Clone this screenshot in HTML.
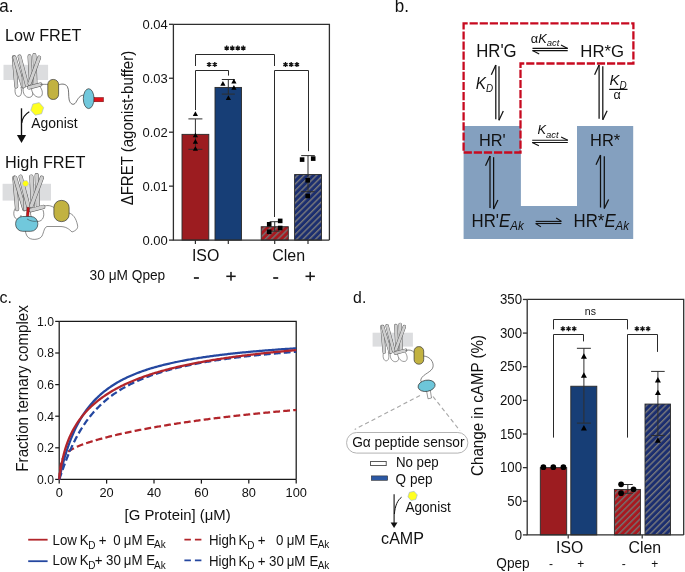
<!DOCTYPE html><html><head><meta charset="utf-8"><style>html,body{margin:0;padding:0;background:#fff;}svg{display:block;will-change:transform;}text{font-family:"Liberation Sans",sans-serif;fill:#111;}</style></head><body>
<svg width="685" height="572" viewBox="0 0 685 572">
<defs><pattern id="hr" patternUnits="userSpaceOnUse" width="4.45" height="4.45" patternTransform="rotate(45)"><rect width="4.45" height="4.45" fill="#a8191f"/><rect width="1.4" height="4.45" fill="#727272"/></pattern><pattern id="hb" patternUnits="userSpaceOnUse" width="4.45" height="4.45" patternTransform="rotate(45)"><rect width="4.45" height="4.45" fill="#1b2e6f"/><rect width="1.4" height="4.45" fill="#7a7a7c"/></pattern></defs>
<text transform="translate(-0.7,12) scale(1,1.04)" font-size="17" text-anchor="start" >a.</text>
<text transform="translate(353.1,302.8) scale(1,1.04)" font-size="15.8" text-anchor="start" >d.</text>
<text transform="translate(-0.4,303) scale(1,1.04)" font-size="16" text-anchor="start" >c.</text>
<text transform="translate(394.8,11.8) scale(1,1.04)" font-size="17" text-anchor="start" >b.</text>
<rect x="182" y="134.36" width="26.80" height="105.74" fill="#9c1c20" stroke="#2a2a2a" stroke-width="0.9"/>
<rect x="215" y="87.42" width="26.50" height="152.68" fill="#173e76" stroke="#2a2a2a" stroke-width="0.9"/>
<rect x="261.2" y="226.72" width="27.10" height="13.38" fill="url(#hr)" stroke="#2a2a2a" stroke-width="0.9"/>
<rect x="294.6" y="174.55" width="26.90" height="65.55" fill="url(#hb)" stroke="#2a2a2a" stroke-width="0.9"/>
<path d="M173.4,24.3 H329.4 V240.1 M173.4,24.3 V240.1 H329.4" fill="none" stroke="#2e2e2e" stroke-width="1.3"/>
<line x1="169" y1="240.1" x2="173.4" y2="240.1" stroke="#2e2e2e" stroke-width="1.3" />
<text transform="translate(167.8,244.5) scale(1,1.04)" font-size="13" text-anchor="end" >0.00</text>
<line x1="169" y1="186.14999999999998" x2="173.4" y2="186.14999999999998" stroke="#2e2e2e" stroke-width="1.3" />
<text transform="translate(167.8,190.54999999999998) scale(1,1.04)" font-size="13" text-anchor="end" >0.01</text>
<line x1="169" y1="132.2" x2="173.4" y2="132.2" stroke="#2e2e2e" stroke-width="1.3" />
<text transform="translate(167.8,136.6) scale(1,1.04)" font-size="13" text-anchor="end" >0.02</text>
<line x1="169" y1="78.25" x2="173.4" y2="78.25" stroke="#2e2e2e" stroke-width="1.3" />
<text transform="translate(167.8,82.65) scale(1,1.04)" font-size="13" text-anchor="end" >0.03</text>
<line x1="169" y1="24.299999999999983" x2="173.4" y2="24.299999999999983" stroke="#2e2e2e" stroke-width="1.3" />
<text transform="translate(167.8,28.69999999999998) scale(1,1.04)" font-size="13" text-anchor="end" >0.04</text>
<line x1="195.4" y1="240.1" x2="195.4" y2="244" stroke="#2e2e2e" stroke-width="1.2" />
<line x1="228.3" y1="240.1" x2="228.3" y2="244" stroke="#2e2e2e" stroke-width="1.2" />
<line x1="274.7" y1="240.1" x2="274.7" y2="244" stroke="#2e2e2e" stroke-width="1.2" />
<line x1="308" y1="240.1" x2="308" y2="244" stroke="#2e2e2e" stroke-width="1.2" />
<line x1="195.4" y1="118.9" x2="195.4" y2="149.3" stroke="#2e2e2e" stroke-width="1.0" />
<line x1="188.4" y1="118.9" x2="202.4" y2="118.9" stroke="#2e2e2e" stroke-width="1.0" />
<line x1="188.4" y1="149.3" x2="202.4" y2="149.3" stroke="#2e2e2e" stroke-width="1.0" />
<path d="M192.80,115.94 L198.00,115.94 L195.40,111.26 Z" fill="#000"/>
<path d="M192.80,137.34 L198.00,137.34 L195.40,132.66 Z" fill="#000"/>
<path d="M192.80,143.74 L198.00,143.74 L195.40,139.06 Z" fill="#000"/>
<path d="M192.80,150.84 L198.00,150.84 L195.40,146.16 Z" fill="#000"/>
<line x1="228.3" y1="79.5" x2="228.3" y2="94.1" stroke="#2e2e2e" stroke-width="1.0" />
<line x1="221.8" y1="79.5" x2="234.8" y2="79.5" stroke="#2e2e2e" stroke-width="1.0" />
<line x1="221.8" y1="94.1" x2="234.8" y2="94.1" stroke="#2e2e2e" stroke-width="1.0" />
<path d="M220.30,85.74 L225.50,85.74 L222.90,81.06 Z" fill="#000"/>
<path d="M231.30,83.44 L236.50,83.44 L233.90,78.76 Z" fill="#000"/>
<path d="M231.30,89.74 L236.50,89.74 L233.90,85.06 Z" fill="#000"/>
<path d="M225.80,99.94 L231.00,99.94 L228.40,95.26 Z" fill="#000"/>
<line x1="274.7" y1="221.7" x2="274.7" y2="231.2" stroke="#2e2e2e" stroke-width="1.0" />
<line x1="269.7" y1="221.7" x2="279.7" y2="221.7" stroke="#2e2e2e" stroke-width="1.0" />
<line x1="269.7" y1="231.2" x2="279.7" y2="231.2" stroke="#2e2e2e" stroke-width="1.0" />
<rect x="266.90" y="222.00" width="4.6" height="4.6" fill="#000"/>
<rect x="277.90" y="218.60" width="4.6" height="4.6" fill="#000"/>
<rect x="266.90" y="229.50" width="4.6" height="4.6" fill="#000"/>
<rect x="277.90" y="225.70" width="4.6" height="4.6" fill="#000"/>
<line x1="308" y1="155.6" x2="308" y2="191.7" stroke="#2e2e2e" stroke-width="1.0" />
<line x1="301.2" y1="155.6" x2="314.8" y2="155.6" stroke="#2e2e2e" stroke-width="1.0" />
<line x1="301.2" y1="191.7" x2="314.8" y2="191.7" stroke="#2e2e2e" stroke-width="1.0" />
<rect x="299.80" y="157.30" width="4.6" height="4.6" fill="#000"/>
<rect x="310.90" y="156.30" width="4.6" height="4.6" fill="#000"/>
<rect x="305.40" y="178.00" width="4.6" height="4.6" fill="#000"/>
<rect x="305.40" y="193.70" width="4.6" height="4.6" fill="#000"/>
<path d="M195.5,110 V70.5 H228.5 V75.6" fill="none" stroke="#2a2a2a" stroke-width="1.0"/>
<path d="M195.5,66 V54.5 H274.5 V66" fill="none" stroke="#2a2a2a" stroke-width="1.0"/>
<path d="M274.5,217 V70.5 H308.5 V151.2" fill="none" stroke="#2a2a2a" stroke-width="1.0"/>
<path d="M209.10,62.00 L209.10,67.00 M206.93,63.25 L211.27,65.75 M206.93,65.75 L211.27,63.25 " stroke="#111" stroke-width="1.3" fill="none"/>
<path d="M214.80,62.00 L214.80,67.00 M212.63,63.25 L216.97,65.75 M212.63,65.75 L216.97,63.25 " stroke="#111" stroke-width="1.3" fill="none"/>
<path d="M226.70,45.60 L226.70,50.60 M224.53,46.85 L228.87,49.35 M224.53,49.35 L228.87,46.85 " stroke="#111" stroke-width="1.3" fill="none"/>
<path d="M232.30,45.60 L232.30,50.60 M230.13,46.85 L234.47,49.35 M230.13,49.35 L234.47,46.85 " stroke="#111" stroke-width="1.3" fill="none"/>
<path d="M237.80,45.60 L237.80,50.60 M235.63,46.85 L239.97,49.35 M235.63,49.35 L239.97,46.85 " stroke="#111" stroke-width="1.3" fill="none"/>
<path d="M243.30,45.60 L243.30,50.60 M241.13,46.85 L245.47,49.35 M241.13,49.35 L245.47,46.85 " stroke="#111" stroke-width="1.3" fill="none"/>
<path d="M285.50,62.10 L285.50,67.10 M283.33,63.35 L287.67,65.85 M283.33,65.85 L287.67,63.35 " stroke="#111" stroke-width="1.3" fill="none"/>
<path d="M291.20,62.10 L291.20,67.10 M289.03,63.35 L293.37,65.85 M289.03,65.85 L293.37,63.35 " stroke="#111" stroke-width="1.3" fill="none"/>
<path d="M296.90,62.10 L296.90,67.10 M294.73,63.35 L299.07,65.85 M294.73,65.85 L299.07,63.35 " stroke="#111" stroke-width="1.3" fill="none"/>
<text transform="translate(191.90,261) scale(1,1.04)" font-size="15.88" >ISO</text>
<text transform="translate(272.20,261) scale(1,1.04)" font-size="16.01" >Clen</text>
<text transform="translate(89.60,280) scale(1,1.04)" font-size="13.70" >30 μM Qpep</text>
<rect x="193.90" y="277.15" width="5.0" height="1.7" fill="#1a1a1a"/>
<rect x="226.30" y="275.53" width="9.4" height="1.55" fill="#1a1a1a"/><rect x="230.22" y="271.90" width="1.55" height="8.8" fill="#1a1a1a"/>
<rect x="273.20" y="277.15" width="5.0" height="1.7" fill="#1a1a1a"/>
<rect x="305.50" y="275.53" width="9.4" height="1.55" fill="#1a1a1a"/><rect x="309.43" y="271.90" width="1.55" height="8.8" fill="#1a1a1a"/>
<text transform="translate(132.8,128.1) rotate(-90) scale(1,1.04)" font-size="15" text-anchor="middle">ΔFRET (agonist-buffer)</text>
<text transform="translate(5.00,40.5) scale(1,1.04)" font-size="16.19" >Low FRET</text>
<text transform="translate(5.00,167.7) scale(1,1.04)" font-size="16.26" >High FRET</text>
<text transform="translate(31.30,127.6) scale(1,1.04)" font-size="13.91" >Agonist</text>
<rect x="3.5" y="64.8" width="44.6" height="15.2" fill="#dcdddf"/>
<g transform="translate(12.4,53.9) scale(1.0)"><path d="M3.5,32 C1.5,37 3,43 6.5,42.5 C9.5,42 9.5,37 8.5,33" fill="#fff" stroke="#444" stroke-width="0.6"/><path d="M11,33 C9.5,39 13,44 17,43.5 C21,43 21.5,38 19,34" fill="#fff" stroke="#444" stroke-width="0.6"/><path d="M19,33.5 C19,40 24,44.5 28,43 C31,41.5 30.5,36 27,32" fill="#fff" stroke="#444" stroke-width="0.6"/><line x1="1.4" y1="3.4" x2="3.9" y2="32.6" stroke="#505050" stroke-width="3.9" stroke-linecap="round"/><line x1="1.4" y1="3.4" x2="3.9" y2="32.6" stroke="#cfcfcf" stroke-width="3.05" stroke-linecap="round"/><line x1="2.1" y1="3.6" x2="10.6" y2="32.6" stroke="#505050" stroke-width="3.9" stroke-linecap="round"/><line x1="2.1" y1="3.6" x2="10.6" y2="32.6" stroke="#cfcfcf" stroke-width="3.05" stroke-linecap="round"/><line x1="11.4" y1="19.5" x2="11.4" y2="32.4" stroke="#505050" stroke-width="3.9" stroke-linecap="round"/><line x1="11.4" y1="19.5" x2="11.4" y2="32.4" stroke="#cfcfcf" stroke-width="3.05" stroke-linecap="round"/><line x1="7.1" y1="2.6" x2="14.6" y2="31.1" stroke="#505050" stroke-width="3.9" stroke-linecap="round"/><line x1="7.1" y1="2.6" x2="14.6" y2="31.1" stroke="#cfcfcf" stroke-width="3.05" stroke-linecap="round"/><line x1="17.1" y1="2.4" x2="18.6" y2="30.6" stroke="#505050" stroke-width="3.9" stroke-linecap="round"/><line x1="17.1" y1="2.4" x2="18.6" y2="30.6" stroke="#cfcfcf" stroke-width="3.05" stroke-linecap="round"/><line x1="22.0" y1="1.1" x2="23.1" y2="29.6" stroke="#505050" stroke-width="3.9" stroke-linecap="round"/><line x1="22.0" y1="1.1" x2="23.1" y2="29.6" stroke="#cfcfcf" stroke-width="3.05" stroke-linecap="round"/><line x1="26.8" y1="3.6" x2="17.1" y2="29.6" stroke="#505050" stroke-width="3.9" stroke-linecap="round"/><line x1="26.8" y1="3.6" x2="17.1" y2="29.6" stroke="#cfcfcf" stroke-width="3.05" stroke-linecap="round"/><line x1="16.6" y1="33.6" x2="28.1" y2="30.6" stroke="#505050" stroke-width="3.9" stroke-linecap="round"/><line x1="16.6" y1="33.6" x2="28.1" y2="30.6" stroke="#cfcfcf" stroke-width="3.05" stroke-linecap="round"/></g>
<path d="M40.5,84.4 C44,84.3 46,84.3 48,84.4" stroke="#333" stroke-width="0.6" fill="none"/>
<rect x="47.80" y="79.45" width="10.80" height="20.00" rx="5.13" fill="#c2b241" stroke="#333" stroke-width="0.7"/>
<path d="M58.7,84.8 C61,84 65,83.2 67.3,86.5 C69.3,89.5 68.2,96 69.2,100 C70.2,104 73.5,106 75.8,102.5 C78,98.5 80,95.3 83.4,95.2" stroke="#444" stroke-width="0.75" fill="none"/>
<ellipse cx="88.65" cy="98.65" rx="5.35" ry="9.95" fill="#71c8dc" stroke="#333" stroke-width="0.7"/>
<rect x="94.1" y="97.5" width="9.4" height="4.3" fill="#e0121a" stroke="#5a0a0a" stroke-width="0.45"/>
<polygon points="43.66,107.53 41.62,113.80 35.16,115.18 30.74,110.27 32.78,104.00 39.24,102.62" fill="#ffff20" stroke="#9aaee0" stroke-width="0.6"/>
<path d="M21.5,108.3 V136" stroke="#111" stroke-width="1.35" fill="none"/>
<path d="M16.9,135 L26.1,135 L21.5,142.9 Z" fill="#111"/>
<path d="M29.3,111.8 C25.5,114 22.5,117.5 21.7,123" stroke="#111" stroke-width="1.25" fill="none"/>
<rect x="2.6" y="183.8" width="48.4" height="16.8" fill="#dcdddf"/>
<path d="M42,207 C46,205 50,205 54,207.5 L68.8,213 C73,214 76,218 77.5,225 C78.5,229 75,231 72,232 C69,229 66,226.5 60,226.5 L47,226.5 C44,227.5 44,232 42,236 C40,240 30,241 27,236 C25.5,233 25,231 26,229 Z" fill="#fff" stroke="#444" stroke-width="0.6"/>
<path d="M15.5,208 C12.5,212 13.5,219 18,219.5 C20,219.5 21,217 21,215 M31,209 C29,216 33,222 38,221.5 C43,221 45,216 43,210" fill="#fff" stroke="#444" stroke-width="0.6"/>
<g transform="translate(12.9,173.9) scale(1.08)"><line x1="1.4" y1="3.4" x2="3.9" y2="32.6" stroke="#505050" stroke-width="3.9" stroke-linecap="round"/><line x1="1.4" y1="3.4" x2="3.9" y2="32.6" stroke="#cfcfcf" stroke-width="3.05" stroke-linecap="round"/><line x1="2.1" y1="3.6" x2="10.6" y2="32.6" stroke="#505050" stroke-width="3.9" stroke-linecap="round"/><line x1="2.1" y1="3.6" x2="10.6" y2="32.6" stroke="#cfcfcf" stroke-width="3.05" stroke-linecap="round"/><line x1="11.4" y1="19.5" x2="11.4" y2="32.4" stroke="#505050" stroke-width="3.9" stroke-linecap="round"/><line x1="11.4" y1="19.5" x2="11.4" y2="32.4" stroke="#cfcfcf" stroke-width="3.05" stroke-linecap="round"/><line x1="7.1" y1="2.6" x2="14.6" y2="31.1" stroke="#505050" stroke-width="3.9" stroke-linecap="round"/><line x1="7.1" y1="2.6" x2="14.6" y2="31.1" stroke="#cfcfcf" stroke-width="3.05" stroke-linecap="round"/><line x1="17.1" y1="2.4" x2="18.6" y2="30.6" stroke="#505050" stroke-width="3.9" stroke-linecap="round"/><line x1="17.1" y1="2.4" x2="18.6" y2="30.6" stroke="#cfcfcf" stroke-width="3.05" stroke-linecap="round"/><line x1="22.0" y1="1.1" x2="23.1" y2="29.6" stroke="#505050" stroke-width="3.9" stroke-linecap="round"/><line x1="22.0" y1="1.1" x2="23.1" y2="29.6" stroke="#cfcfcf" stroke-width="3.05" stroke-linecap="round"/><line x1="26.8" y1="3.6" x2="17.1" y2="29.6" stroke="#505050" stroke-width="3.9" stroke-linecap="round"/><line x1="26.8" y1="3.6" x2="17.1" y2="29.6" stroke="#cfcfcf" stroke-width="3.05" stroke-linecap="round"/><line x1="16.6" y1="33.6" x2="28.1" y2="30.6" stroke="#505050" stroke-width="3.9" stroke-linecap="round"/><line x1="16.6" y1="33.6" x2="28.1" y2="30.6" stroke="#cfcfcf" stroke-width="3.05" stroke-linecap="round"/></g>
<polygon points="28.80,183.50 27.15,186.36 23.85,186.36 22.20,183.50 23.85,180.64 27.15,180.64" fill="#ffff10" stroke="#b8c0e0" stroke-width="0.6"/>
<path d="M27.1,207.3 L29.5,207.5 L28.7,216.7 L26.3,216.5 Z" fill="#d0121a" stroke="#4a0808" stroke-width="0.45"/>
<rect x="15.60" y="216.50" width="22.20" height="14.80" rx="7.03" fill="#71c8dc" stroke="#333" stroke-width="0.7"/>
<path d="M27,219 C30,221 35,222 37,221" stroke="#333" stroke-width="0.5" fill="none"/>
<rect x="53.90" y="200.40" width="15.20" height="21.20" rx="7.22" fill="#c2b241" stroke="#333" stroke-width="0.7"/>
<path d="M463.6,125.9 H520.9 V205.9 H577 V125.9 H633.2 V238.9 H463.6 Z" fill="#84a0bf"/>
<path d="M463.6,23.3 H633.4 V63.5 H520.5 V152.5 H463.6 Z" fill="none" stroke="#c70a20" stroke-width="2.3" stroke-dasharray="8.2 1.9" stroke-dashoffset="4.1"/>
<text transform="translate(476.20,56.6) scale(1,1.04)" font-size="16.77" >HR'G</text>
<text transform="translate(580.30,56.6) scale(1,1.04)" font-size="16.74" >HR*G</text>
<text transform="translate(479.00,145.7) scale(1,1.04)" font-size="16.33" >HR'</text>
<text transform="translate(590.00,146.1) scale(1,1.04)" font-size="16.46" >HR*</text>
<text transform="translate(471.6,226.8) scale(1,1.04)" font-size="16.8">HR'<tspan font-style="italic">E</tspan><tspan font-style="italic" font-size="11.5" dy="3">Ak</tspan></text>
<text transform="translate(573.6,226.8) scale(1,1.04)" font-size="16.8">HR*<tspan font-style="italic">E</tspan><tspan font-style="italic" font-size="11.5" dy="3">Ak</tspan></text>
<text transform="translate(530.8,42.8) scale(1,1.04)" font-size="12.8">α<tspan font-style="italic">K</tspan><tspan font-style="italic" font-size="9.5" dy="3.1">act</tspan></text>
<text transform="translate(537.5,134.3) scale(1,1.04)" font-size="12.8"><tspan font-style="italic">K</tspan><tspan font-style="italic" font-size="9.5" dy="3.1">act</tspan></text>
<text transform="translate(475.8,88.9) scale(1,1.04)" font-size="15.3"><tspan font-style="italic">K</tspan><tspan font-style="italic" font-size="9.9" dy="3.1">D</tspan></text>
<text transform="translate(609.6,85.4) scale(1,1.04)" font-size="14.9"><tspan font-style="italic">K</tspan><tspan font-style="italic" font-size="9.9" dy="3">D</tspan></text>
<line x1="609.2" y1="89.4" x2="627.5" y2="89.4" stroke="#111" stroke-width="1.2" />
<text transform="translate(617.2,99.2) scale(1,1.04)" font-size="12.5" text-anchor="middle" >α</text>
<line x1="532.5" y1="48.4" x2="567.7" y2="48.4" stroke="#111" stroke-width="1.1" />
<line x1="532.5" y1="50.6" x2="567.7" y2="50.6" stroke="#111" stroke-width="1.1" />
<line x1="567.7" y1="48.4" x2="561.0" y2="45.1" stroke="#111" stroke-width="1.1" />
<line x1="532.5" y1="50.6" x2="539.2" y2="53.9" stroke="#111" stroke-width="1.1" />
<line x1="532.2" y1="140.3" x2="567.8" y2="140.3" stroke="#111" stroke-width="1.1" />
<line x1="532.2" y1="142.5" x2="567.8" y2="142.5" stroke="#111" stroke-width="1.1" />
<line x1="567.8" y1="140.3" x2="561.0999999999999" y2="137.0" stroke="#111" stroke-width="1.1" />
<line x1="532.2" y1="142.5" x2="538.9000000000001" y2="145.8" stroke="#111" stroke-width="1.1" />
<line x1="535.7" y1="221.4" x2="561.4" y2="221.4" stroke="#111" stroke-width="1.1" />
<line x1="535.7" y1="223.5" x2="561.4" y2="223.5" stroke="#111" stroke-width="1.1" />
<line x1="561.4" y1="221.4" x2="556.1999999999999" y2="218.0" stroke="#111" stroke-width="1.1" />
<line x1="535.7" y1="223.5" x2="540.9000000000001" y2="226.9" stroke="#111" stroke-width="1.1" />
<line x1="495.8" y1="65.1" x2="495.8" y2="119.2" stroke="#111" stroke-width="1.25" />
<line x1="499.0" y1="66.3" x2="499.0" y2="120.2" stroke="#111" stroke-width="1.25" />
<line x1="495.8" y1="65.1" x2="491.3" y2="74.8" stroke="#111" stroke-width="1.25" />
<line x1="499.0" y1="120.2" x2="503.3" y2="111.10000000000001" stroke="#111" stroke-width="1.25" />
<line x1="599.1" y1="65.1" x2="599.1" y2="118.8" stroke="#111" stroke-width="1.25" />
<line x1="602.8" y1="66.3" x2="602.8" y2="119.8" stroke="#111" stroke-width="1.25" />
<line x1="599.1" y1="65.1" x2="594.6" y2="74.8" stroke="#111" stroke-width="1.25" />
<line x1="602.8" y1="119.8" x2="607.0999999999999" y2="110.7" stroke="#111" stroke-width="1.25" />
<line x1="490.0" y1="156.0" x2="490.0" y2="208.1" stroke="#111" stroke-width="1.25" />
<line x1="493.6" y1="157.2" x2="493.6" y2="209.1" stroke="#111" stroke-width="1.25" />
<line x1="490.0" y1="156.0" x2="485.5" y2="165.7" stroke="#111" stroke-width="1.25" />
<line x1="493.6" y1="209.1" x2="497.90000000000003" y2="200.0" stroke="#111" stroke-width="1.25" />
<line x1="600.5" y1="155.0" x2="600.5" y2="207.5" stroke="#111" stroke-width="1.25" />
<line x1="604.3" y1="156.2" x2="604.3" y2="208.5" stroke="#111" stroke-width="1.25" />
<line x1="600.5" y1="155.0" x2="596.0" y2="164.7" stroke="#111" stroke-width="1.25" />
<line x1="604.3" y1="208.5" x2="608.5999999999999" y2="199.4" stroke="#111" stroke-width="1.25" />
<path d="M59.2,321.4 H296.2 V479.4 M59.2,321.4 V479.4 H296.2" fill="none" stroke="#1a1a1a" stroke-width="1.25"/>
<line x1="55.2" y1="479.4" x2="59.2" y2="479.4" stroke="#1a1a1a" stroke-width="1.25" />
<text transform="translate(54.0,483.7) scale(1,1.04)" font-size="12.2" text-anchor="end" >0.0</text>
<line x1="55.2" y1="447.79999999999995" x2="59.2" y2="447.79999999999995" stroke="#1a1a1a" stroke-width="1.25" />
<text transform="translate(54.0,452.09999999999997) scale(1,1.04)" font-size="12.2" text-anchor="end" >0.2</text>
<line x1="55.2" y1="416.2" x2="59.2" y2="416.2" stroke="#1a1a1a" stroke-width="1.25" />
<text transform="translate(54.0,420.5) scale(1,1.04)" font-size="12.2" text-anchor="end" >0.4</text>
<line x1="55.2" y1="384.59999999999997" x2="59.2" y2="384.59999999999997" stroke="#1a1a1a" stroke-width="1.25" />
<text transform="translate(54.0,388.9) scale(1,1.04)" font-size="12.2" text-anchor="end" >0.6</text>
<line x1="55.2" y1="353.0" x2="59.2" y2="353.0" stroke="#1a1a1a" stroke-width="1.25" />
<text transform="translate(54.0,357.3) scale(1,1.04)" font-size="12.2" text-anchor="end" >0.8</text>
<line x1="55.2" y1="321.4" x2="59.2" y2="321.4" stroke="#1a1a1a" stroke-width="1.25" />
<text transform="translate(54.0,325.7) scale(1,1.04)" font-size="12.2" text-anchor="end" >1.0</text>
<line x1="59.2" y1="479.4" x2="59.2" y2="483.6" stroke="#1a1a1a" stroke-width="1.25" />
<text transform="translate(59.2,497) scale(1,1.04)" font-size="12.8" text-anchor="middle" >0</text>
<line x1="106.60000000000001" y1="479.4" x2="106.60000000000001" y2="483.6" stroke="#1a1a1a" stroke-width="1.25" />
<text transform="translate(106.60000000000001,497) scale(1,1.04)" font-size="12.8" text-anchor="middle" >20</text>
<line x1="154.0" y1="479.4" x2="154.0" y2="483.6" stroke="#1a1a1a" stroke-width="1.25" />
<text transform="translate(154.0,497) scale(1,1.04)" font-size="12.8" text-anchor="middle" >40</text>
<line x1="201.40000000000003" y1="479.4" x2="201.40000000000003" y2="483.6" stroke="#1a1a1a" stroke-width="1.25" />
<text transform="translate(201.40000000000003,497) scale(1,1.04)" font-size="12.8" text-anchor="middle" >60</text>
<line x1="248.8" y1="479.4" x2="248.8" y2="483.6" stroke="#1a1a1a" stroke-width="1.25" />
<text transform="translate(248.8,497) scale(1,1.04)" font-size="12.8" text-anchor="middle" >80</text>
<line x1="296.2" y1="479.4" x2="296.2" y2="483.6" stroke="#1a1a1a" stroke-width="1.25" />
<text transform="translate(296.2,497) scale(1,1.04)" font-size="12.8" text-anchor="middle" >100</text>
<text transform="translate(124.60,519.9) scale(1,1.04)" font-size="14.88" >[G Protein] (μM)</text>
<text transform="translate(27.6,388.4) rotate(-90) scale(1,1.04)" font-size="15.15" text-anchor="middle">Fraction ternary complex</text>
<path d="M59.20,479.40 L59.44,476.08 L59.67,473.39 L59.91,471.15 L60.15,469.27 L60.39,467.66 L60.62,466.27 L60.86,465.04 L61.10,463.96 L61.33,462.99 L61.57,462.12 L61.81,461.33 L62.04,460.61 L62.28,459.96 L62.52,459.35 L62.76,458.79 L62.99,458.27 L63.23,457.79 L63.47,457.33 L63.70,456.91 L63.94,456.51 L64.18,456.13 L64.41,455.77 L64.65,455.43 L64.89,455.11 L65.12,454.80 L65.36,454.51 L65.60,454.22 L65.84,453.95 L66.07,453.69 L66.31,453.44 L66.55,453.20 L66.78,452.97 L67.02,452.75 L67.26,452.53 L67.50,452.32 L67.73,452.11 L67.97,451.92 L68.21,451.72 L68.44,451.54 L68.68,451.35 L68.92,451.18 L69.15,451.00 L69.39,450.83 L69.63,450.67 L69.87,450.51 L70.10,450.35 L70.34,450.19 L70.58,450.04 L70.81,449.89 L71.05,449.74 L72.23,449.05 L73.42,448.41 L74.61,447.81 L75.79,447.25 L76.98,446.72 L78.16,446.21 L79.34,445.72 L80.53,445.25 L81.72,444.80 L82.90,444.36 L84.09,443.94 L85.27,443.52 L86.46,443.12 L87.64,442.73 L88.83,442.34 L90.01,441.97 L91.20,441.60 L92.38,441.23 L93.56,440.88 L94.75,440.53 L95.94,440.18 L97.12,439.85 L98.31,439.51 L99.49,439.18 L100.68,438.86 L101.86,438.54 L103.05,438.22 L104.23,437.91 L105.42,437.60 L106.60,437.30 L107.78,437.00 L108.97,436.70 L110.16,436.41 L111.34,436.12 L112.53,435.83 L113.71,435.55 L114.90,435.27 L116.08,434.99 L117.27,434.72 L118.45,434.44 L119.64,434.17 L120.82,433.91 L122.00,433.64 L123.19,433.38 L124.38,433.12 L125.56,432.87 L126.75,432.61 L127.93,432.36 L129.12,432.11 L130.30,431.86 L131.49,431.62 L132.67,431.37 L133.86,431.13 L135.04,430.89 L136.23,430.66 L137.41,430.42 L138.60,430.19 L139.78,429.96 L140.97,429.73 L142.15,429.50 L143.34,429.27 L144.52,429.05 L145.71,428.83 L146.89,428.61 L148.07,428.39 L149.26,428.17 L150.44,427.96 L151.63,427.74 L152.81,427.53 L154.00,427.32 L155.19,427.11 L156.37,426.91 L157.56,426.70 L158.74,426.50 L159.93,426.30 L161.11,426.10 L162.30,425.90 L163.48,425.70 L164.67,425.50 L165.85,425.31 L167.04,425.11 L168.22,424.92 L169.41,424.73 L170.59,424.54 L171.78,424.35 L172.96,424.17 L174.15,423.98 L175.33,423.80 L176.52,423.61 L177.70,423.43 L178.88,423.25 L180.07,423.07 L181.25,422.90 L182.44,422.72 L183.62,422.54 L184.81,422.37 L186.00,422.20 L187.18,422.02 L188.37,421.85 L189.55,421.68 L190.74,421.52 L191.92,421.35 L193.11,421.18 L194.29,421.02 L195.48,420.85 L196.66,420.69 L197.85,420.53 L199.03,420.37 L200.22,420.21 L201.40,420.05 L202.59,419.89 L203.77,419.73 L204.95,419.58 L206.14,419.42 L207.32,419.27 L208.51,419.11 L209.69,418.96 L210.88,418.81 L212.06,418.66 L213.25,418.51 L214.44,418.36 L215.62,418.22 L216.81,418.07 L217.99,417.92 L219.18,417.78 L220.36,417.64 L221.55,417.49 L222.73,417.35 L223.92,417.21 L225.10,417.07 L226.29,416.93 L227.47,416.79 L228.66,416.65 L229.84,416.51 L231.03,416.38 L232.21,416.24 L233.40,416.11 L234.58,415.97 L235.76,415.84 L236.95,415.71 L238.13,415.58 L239.32,415.45 L240.50,415.31 L241.69,415.19 L242.88,415.06 L244.06,414.93 L245.25,414.80 L246.43,414.67 L247.62,414.55 L248.80,414.42 L249.99,414.30 L251.17,414.18 L252.36,414.05 L253.54,413.93 L254.73,413.81 L255.91,413.69 L257.10,413.57 L258.28,413.45 L259.47,413.33 L260.65,413.21 L261.84,413.09 L263.02,412.97 L264.20,412.86 L265.39,412.74 L266.57,412.63 L267.76,412.51 L268.94,412.40 L270.13,412.28 L271.31,412.17 L272.50,412.06 L273.69,411.95 L274.87,411.84 L276.06,411.73 L277.24,411.62 L278.43,411.51 L279.61,411.40 L280.80,411.29 L281.98,411.18 L283.17,411.07 L284.35,410.97 L285.54,410.86 L286.72,410.76 L287.91,410.65 L289.09,410.55 L290.28,410.44 L291.46,410.34 L292.65,410.24 L293.83,410.14 L295.01,410.03 L296.20,409.93" fill="none" stroke="#b2252b" stroke-width="2.25" stroke-dasharray="6.8 3.2"/>
<path d="M59.20,479.40 L59.44,478.82 L59.67,478.18 L59.91,477.52 L60.15,476.85 L60.39,476.18 L60.62,475.49 L60.86,474.81 L61.10,474.13 L61.33,473.44 L61.57,472.76 L61.81,472.08 L62.04,471.40 L62.28,470.72 L62.52,470.04 L62.76,469.37 L62.99,468.70 L63.23,468.04 L63.47,467.37 L63.70,466.71 L63.94,466.06 L64.18,465.41 L64.41,464.76 L64.65,464.12 L64.89,463.48 L65.12,462.84 L65.36,462.21 L65.60,461.59 L65.84,460.96 L66.07,460.35 L66.31,459.73 L66.55,459.12 L66.78,458.52 L67.02,457.92 L67.26,457.32 L67.50,456.73 L67.73,456.14 L67.97,455.56 L68.21,454.98 L68.44,454.41 L68.68,453.84 L68.92,453.27 L69.15,452.71 L69.39,452.15 L69.63,451.60 L69.87,451.05 L70.10,450.50 L70.34,449.96 L70.58,449.42 L70.81,448.89 L71.05,448.36 L72.23,445.78 L73.42,443.29 L74.61,440.89 L75.79,438.58 L76.98,436.36 L78.16,434.22 L79.34,432.15 L80.53,430.16 L81.72,428.24 L82.90,426.38 L84.09,424.59 L85.27,422.86 L86.46,421.19 L87.64,419.58 L88.83,418.02 L90.01,416.50 L91.20,415.04 L92.38,413.62 L93.56,412.25 L94.75,410.92 L95.94,409.63 L97.12,408.38 L98.31,407.17 L99.49,405.99 L100.68,404.85 L101.86,403.74 L103.05,402.66 L104.23,401.61 L105.42,400.59 L106.60,399.60 L107.78,398.64 L108.97,397.70 L110.16,396.79 L111.34,395.90 L112.53,395.03 L113.71,394.18 L114.90,393.36 L116.08,392.56 L117.27,391.77 L118.45,391.01 L119.64,390.26 L120.82,389.54 L122.00,388.83 L123.19,388.13 L124.38,387.45 L125.56,386.79 L126.75,386.14 L127.93,385.51 L129.12,384.89 L130.30,384.29 L131.49,383.70 L132.67,383.12 L133.86,382.55 L135.04,381.99 L136.23,381.45 L137.41,380.92 L138.60,380.40 L139.78,379.89 L140.97,379.39 L142.15,378.90 L143.34,378.42 L144.52,377.95 L145.71,377.49 L146.89,377.03 L148.07,376.59 L149.26,376.15 L150.44,375.73 L151.63,375.31 L152.81,374.89 L154.00,374.49 L155.19,374.09 L156.37,373.70 L157.56,373.32 L158.74,372.95 L159.93,372.58 L161.11,372.21 L162.30,371.86 L163.48,371.51 L164.67,371.16 L165.85,370.82 L167.04,370.49 L168.22,370.16 L169.41,369.84 L170.59,369.52 L171.78,369.21 L172.96,368.90 L174.15,368.60 L175.33,368.31 L176.52,368.01 L177.70,367.73 L178.88,367.44 L180.07,367.16 L181.25,366.89 L182.44,366.62 L183.62,366.35 L184.81,366.09 L186.00,365.83 L187.18,365.58 L188.37,365.33 L189.55,365.08 L190.74,364.83 L191.92,364.59 L193.11,364.36 L194.29,364.12 L195.48,363.89 L196.66,363.67 L197.85,363.44 L199.03,363.22 L200.22,363.01 L201.40,362.79 L202.59,362.58 L203.77,362.37 L204.95,362.16 L206.14,361.96 L207.32,361.76 L208.51,361.56 L209.69,361.37 L210.88,361.17 L212.06,360.98 L213.25,360.80 L214.44,360.61 L215.62,360.43 L216.81,360.25 L217.99,360.07 L219.18,359.89 L220.36,359.72 L221.55,359.55 L222.73,359.38 L223.92,359.21 L225.10,359.04 L226.29,358.88 L227.47,358.72 L228.66,358.56 L229.84,358.40 L231.03,358.24 L232.21,358.09 L233.40,357.93 L234.58,357.78 L235.76,357.63 L236.95,357.49 L238.13,357.34 L239.32,357.20 L240.50,357.06 L241.69,356.91 L242.88,356.78 L244.06,356.64 L245.25,356.50 L246.43,356.37 L247.62,356.23 L248.80,356.10 L249.99,355.97 L251.17,355.84 L252.36,355.71 L253.54,355.59 L254.73,355.46 L255.91,355.34 L257.10,355.22 L258.28,355.10 L259.47,354.98 L260.65,354.86 L261.84,354.74 L263.02,354.62 L264.20,354.51 L265.39,354.40 L266.57,354.28 L267.76,354.17 L268.94,354.06 L270.13,353.95 L271.31,353.84 L272.50,353.74 L273.69,353.63 L274.87,353.53 L276.06,353.42 L277.24,353.32 L278.43,353.22 L279.61,353.12 L280.80,353.02 L281.98,352.92 L283.17,352.82 L284.35,352.72 L285.54,352.62 L286.72,352.53 L287.91,352.43 L289.09,352.34 L290.28,352.25 L291.46,352.16 L292.65,352.06 L293.83,351.97 L295.01,351.88 L296.20,351.80" fill="none" stroke="#2447a0" stroke-width="2.25" stroke-dasharray="6.8 3.2"/>
<path d="M59.20,479.40 L59.44,478.33 L59.67,477.26 L59.91,476.20 L60.15,475.15 L60.39,474.11 L60.62,473.09 L60.86,472.07 L61.10,471.07 L61.33,470.09 L61.57,469.11 L61.81,468.15 L62.04,467.20 L62.28,466.26 L62.52,465.34 L62.76,464.43 L62.99,463.52 L63.23,462.63 L63.47,461.76 L63.70,460.89 L63.94,460.03 L64.18,459.19 L64.41,458.35 L64.65,457.53 L64.89,456.71 L65.12,455.91 L65.36,455.11 L65.60,454.33 L65.84,453.55 L66.07,452.79 L66.31,452.03 L66.55,451.28 L66.78,450.54 L67.02,449.81 L67.26,449.09 L67.50,448.38 L67.73,447.68 L67.97,446.98 L68.21,446.29 L68.44,445.61 L68.68,444.94 L68.92,444.28 L69.15,443.62 L69.39,442.97 L69.63,442.33 L69.87,441.69 L70.10,441.07 L70.34,440.44 L70.58,439.83 L70.81,439.22 L71.05,438.62 L72.23,435.72 L73.42,432.96 L74.61,430.34 L75.79,427.86 L76.98,425.49 L78.16,423.24 L79.34,421.09 L80.53,419.04 L81.72,417.07 L82.90,415.20 L84.09,413.40 L85.27,411.68 L86.46,410.03 L87.64,408.44 L88.83,406.92 L90.01,405.45 L91.20,404.04 L92.38,402.68 L93.56,401.38 L94.75,400.12 L95.94,398.90 L97.12,397.72 L98.31,396.59 L99.49,395.49 L100.68,394.43 L101.86,393.41 L103.05,392.41 L104.23,391.45 L105.42,390.52 L106.60,389.61 L107.78,388.74 L108.97,387.89 L110.16,387.06 L111.34,386.26 L112.53,385.48 L113.71,384.72 L114.90,383.98 L116.08,383.26 L117.27,382.57 L118.45,381.89 L119.64,381.22 L120.82,380.58 L122.00,379.95 L123.19,379.34 L124.38,378.74 L125.56,378.16 L126.75,377.59 L127.93,377.04 L129.12,376.49 L130.30,375.97 L131.49,375.45 L132.67,374.94 L133.86,374.45 L135.04,373.97 L136.23,373.50 L137.41,373.03 L138.60,372.58 L139.78,372.14 L140.97,371.71 L142.15,371.29 L143.34,370.87 L144.52,370.47 L145.71,370.07 L146.89,369.68 L148.07,369.30 L149.26,368.92 L150.44,368.55 L151.63,368.19 L152.81,367.84 L154.00,367.50 L155.19,367.16 L156.37,366.82 L157.56,366.49 L158.74,366.17 L159.93,365.86 L161.11,365.55 L162.30,365.24 L163.48,364.95 L164.67,364.65 L165.85,364.36 L167.04,364.08 L168.22,363.80 L169.41,363.53 L170.59,363.26 L171.78,362.99 L172.96,362.73 L174.15,362.48 L175.33,362.22 L176.52,361.98 L177.70,361.73 L178.88,361.49 L180.07,361.25 L181.25,361.02 L182.44,360.79 L183.62,360.57 L184.81,360.35 L186.00,360.13 L187.18,359.91 L188.37,359.70 L189.55,359.49 L190.74,359.28 L191.92,359.08 L193.11,358.88 L194.29,358.68 L195.48,358.49 L196.66,358.30 L197.85,358.11 L199.03,357.92 L200.22,357.74 L201.40,357.56 L202.59,357.38 L203.77,357.20 L204.95,357.03 L206.14,356.86 L207.32,356.69 L208.51,356.52 L209.69,356.36 L210.88,356.19 L212.06,356.03 L213.25,355.87 L214.44,355.72 L215.62,355.56 L216.81,355.41 L217.99,355.26 L219.18,355.11 L220.36,354.97 L221.55,354.82 L222.73,354.68 L223.92,354.54 L225.10,354.40 L226.29,354.26 L227.47,354.12 L228.66,353.99 L229.84,353.85 L231.03,353.72 L232.21,353.59 L233.40,353.46 L234.58,353.34 L235.76,353.21 L236.95,353.09 L238.13,352.96 L239.32,352.84 L240.50,352.72 L241.69,352.60 L242.88,352.49 L244.06,352.37 L245.25,352.26 L246.43,352.14 L247.62,352.03 L248.80,351.92 L249.99,351.81 L251.17,351.70 L252.36,351.59 L253.54,351.49 L254.73,351.38 L255.91,351.28 L257.10,351.17 L258.28,351.07 L259.47,350.97 L260.65,350.87 L261.84,350.77 L263.02,350.68 L264.20,350.58 L265.39,350.48 L266.57,350.39 L267.76,350.29 L268.94,350.20 L270.13,350.11 L271.31,350.02 L272.50,349.93 L273.69,349.84 L274.87,349.75 L276.06,349.66 L277.24,349.57 L278.43,349.49 L279.61,349.40 L280.80,349.32 L281.98,349.24 L283.17,349.15 L284.35,349.07 L285.54,348.99 L286.72,348.91 L287.91,348.83 L289.09,348.75 L290.28,348.67 L291.46,348.59 L292.65,348.52 L293.83,348.44 L295.01,348.37 L296.20,348.29" fill="none" stroke="#2447a0" stroke-width="2.25" />
<path d="M59.20,479.40 L59.44,477.55 L59.67,475.78 L59.91,474.10 L60.15,472.49 L60.39,470.96 L60.62,469.48 L60.86,468.07 L61.10,466.71 L61.33,465.40 L61.57,464.15 L61.81,462.93 L62.04,461.76 L62.28,460.63 L62.52,459.53 L62.76,458.47 L62.99,457.45 L63.23,456.45 L63.47,455.48 L63.70,454.54 L63.94,453.63 L64.18,452.74 L64.41,451.87 L64.65,451.03 L64.89,450.21 L65.12,449.40 L65.36,448.62 L65.60,447.86 L65.84,447.11 L66.07,446.38 L66.31,445.66 L66.55,444.96 L66.78,444.28 L67.02,443.61 L67.26,442.95 L67.50,442.31 L67.73,441.68 L67.97,441.06 L68.21,440.45 L68.44,439.85 L68.68,439.26 L68.92,438.69 L69.15,438.12 L69.39,437.56 L69.63,437.02 L69.87,436.48 L70.10,435.95 L70.34,435.43 L70.58,434.91 L70.81,434.41 L71.05,433.91 L72.23,431.52 L73.42,429.29 L74.61,427.21 L75.79,425.24 L76.98,423.38 L78.16,421.61 L79.34,419.93 L80.53,418.33 L81.72,416.80 L82.90,415.33 L84.09,413.93 L85.27,412.58 L86.46,411.28 L87.64,410.02 L88.83,408.81 L90.01,407.64 L91.20,406.51 L92.38,405.42 L93.56,404.36 L94.75,403.33 L95.94,402.33 L97.12,401.36 L98.31,400.42 L99.49,399.50 L100.68,398.61 L101.86,397.74 L103.05,396.89 L104.23,396.07 L105.42,395.27 L106.60,394.48 L107.78,393.71 L108.97,392.97 L110.16,392.24 L111.34,391.52 L112.53,390.82 L113.71,390.14 L114.90,389.47 L116.08,388.82 L117.27,388.18 L118.45,387.55 L119.64,386.94 L120.82,386.34 L122.00,385.75 L123.19,385.17 L124.38,384.61 L125.56,384.05 L126.75,383.51 L127.93,382.97 L129.12,382.45 L130.30,381.93 L131.49,381.43 L132.67,380.93 L133.86,380.44 L135.04,379.96 L136.23,379.49 L137.41,379.03 L138.60,378.58 L139.78,378.13 L140.97,377.69 L142.15,377.26 L143.34,376.83 L144.52,376.41 L145.71,376.00 L146.89,375.60 L148.07,375.20 L149.26,374.81 L150.44,374.42 L151.63,374.04 L152.81,373.67 L154.00,373.30 L155.19,372.93 L156.37,372.58 L157.56,372.22 L158.74,371.88 L159.93,371.53 L161.11,371.20 L162.30,370.86 L163.48,370.54 L164.67,370.21 L165.85,369.89 L167.04,369.58 L168.22,369.27 L169.41,368.96 L170.59,368.66 L171.78,368.36 L172.96,368.07 L174.15,367.78 L175.33,367.50 L176.52,367.21 L177.70,366.93 L178.88,366.66 L180.07,366.39 L181.25,366.12 L182.44,365.86 L183.62,365.59 L184.81,365.34 L186.00,365.08 L187.18,364.83 L188.37,364.58 L189.55,364.34 L190.74,364.09 L191.92,363.85 L193.11,363.62 L194.29,363.38 L195.48,363.15 L196.66,362.92 L197.85,362.70 L199.03,362.47 L200.22,362.25 L201.40,362.04 L202.59,361.82 L203.77,361.61 L204.95,361.40 L206.14,361.19 L207.32,360.98 L208.51,360.78 L209.69,360.57 L210.88,360.38 L212.06,360.18 L213.25,359.98 L214.44,359.79 L215.62,359.60 L216.81,359.41 L217.99,359.22 L219.18,359.04 L220.36,358.85 L221.55,358.67 L222.73,358.49 L223.92,358.32 L225.10,358.14 L226.29,357.97 L227.47,357.79 L228.66,357.62 L229.84,357.45 L231.03,357.29 L232.21,357.12 L233.40,356.96 L234.58,356.80 L235.76,356.63 L236.95,356.48 L238.13,356.32 L239.32,356.16 L240.50,356.01 L241.69,355.85 L242.88,355.70 L244.06,355.55 L245.25,355.40 L246.43,355.26 L247.62,355.11 L248.80,354.97 L249.99,354.82 L251.17,354.68 L252.36,354.54 L253.54,354.40 L254.73,354.26 L255.91,354.12 L257.10,353.99 L258.28,353.85 L259.47,353.72 L260.65,353.59 L261.84,353.46 L263.02,353.33 L264.20,353.20 L265.39,353.07 L266.57,352.94 L267.76,352.82 L268.94,352.69 L270.13,352.57 L271.31,352.45 L272.50,352.33 L273.69,352.21 L274.87,352.09 L276.06,351.97 L277.24,351.85 L278.43,351.74 L279.61,351.62 L280.80,351.51 L281.98,351.39 L283.17,351.28 L284.35,351.17 L285.54,351.06 L286.72,350.95 L287.91,350.84 L289.09,350.73 L290.28,350.62 L291.46,350.52 L292.65,350.41 L293.83,350.31 L295.01,350.20 L296.20,350.10" fill="none" stroke="#b2252b" stroke-width="2.25" />
<line x1="28.2" y1="539.7" x2="47.6" y2="539.7" stroke="#b2252b" stroke-width="1.8" />
<line x1="28.2" y1="561.2" x2="47.6" y2="561.2" stroke="#2447a0" stroke-width="1.8" />
<line x1="184.4" y1="539.7" x2="201.8" y2="539.7" stroke="#b2252b" stroke-width="1.8" stroke-dasharray="6.5 4"/>
<line x1="184.4" y1="560.3" x2="201.8" y2="560.3" stroke="#2447a0" stroke-width="1.8" stroke-dasharray="6.5 4"/>
<text transform="translate(52.60,544.80) scale(1,1.04)" font-size="13.3">Low</text>
<text transform="translate(79.70,544.80) scale(1,1.04)" font-size="13.3">K</text>
<text transform="translate(88.30,548.60) scale(1,1.04)" font-size="10">D</text>
<text transform="translate(98.70,544.80) scale(1,1.04)" font-size="13.3">+</text>
<text transform="translate(113.30,544.80) scale(1,1.04)" font-size="13.3">0</text>
<text transform="translate(123.80,544.80) scale(1,1.04)" font-size="13.3">μM</text>
<text transform="translate(146.20,544.80) scale(1,1.04)" font-size="13.3">E</text>
<text transform="translate(154.10,548.40) scale(1,1.04)" font-size="10">Ak</text>
<text transform="translate(52.60,565.10) scale(1,1.04)" font-size="13.3">Low</text>
<text transform="translate(79.70,565.10) scale(1,1.04)" font-size="13.3">K</text>
<text transform="translate(88.30,568.90) scale(1,1.04)" font-size="10">D</text>
<text transform="translate(94.70,565.10) scale(1,1.04)" font-size="13.3">+</text>
<text transform="translate(106.10,565.10) scale(1,1.04)" font-size="13.3">30</text>
<text transform="translate(123.80,565.10) scale(1,1.04)" font-size="13.3">μM</text>
<text transform="translate(146.20,565.10) scale(1,1.04)" font-size="13.3">E</text>
<text transform="translate(154.10,568.70) scale(1,1.04)" font-size="10">Ak</text>
<text transform="translate(208.90,544.80) scale(1,1.04)" font-size="13.3">High</text>
<text transform="translate(238.40,544.80) scale(1,1.04)" font-size="13.3">K</text>
<text transform="translate(247.30,548.60) scale(1,1.04)" font-size="10">D</text>
<text transform="translate(257.70,544.80) scale(1,1.04)" font-size="13.3">+</text>
<text transform="translate(275.90,544.80) scale(1,1.04)" font-size="13.3">0</text>
<text transform="translate(286.70,544.80) scale(1,1.04)" font-size="13.3">μM</text>
<text transform="translate(309.40,544.80) scale(1,1.04)" font-size="13.3">E</text>
<text transform="translate(317.70,548.40) scale(1,1.04)" font-size="10">Ak</text>
<text transform="translate(208.90,565.50) scale(1,1.04)" font-size="13.3">High</text>
<text transform="translate(238.40,565.50) scale(1,1.04)" font-size="13.3">K</text>
<text transform="translate(247.30,569.30) scale(1,1.04)" font-size="10">D</text>
<text transform="translate(257.70,565.50) scale(1,1.04)" font-size="13.3">+</text>
<text transform="translate(269.00,565.50) scale(1,1.04)" font-size="13.3">30</text>
<text transform="translate(286.70,565.50) scale(1,1.04)" font-size="13.3">μM</text>
<text transform="translate(309.40,565.50) scale(1,1.04)" font-size="13.3">E</text>
<text transform="translate(317.70,569.10) scale(1,1.04)" font-size="10">Ak</text>
<rect x="372.6" y="332.7" width="40.3" height="13.9" fill="#dcdddf"/>
<g transform="translate(380.8,323.4) scale(0.88)"><path d="M3.5,32 C1.5,37 3,43 6.5,42.5 C9.5,42 9.5,37 8.5,33" fill="#fff" stroke="#444" stroke-width="0.6"/><path d="M11,33 C9.5,39 13,44 17,43.5 C21,43 21.5,38 19,34" fill="#fff" stroke="#444" stroke-width="0.6"/><path d="M19,33.5 C19,40 24,44.5 28,43 C31,41.5 30.5,36 27,32" fill="#fff" stroke="#444" stroke-width="0.6"/><line x1="1.4" y1="3.4" x2="3.9" y2="32.6" stroke="#505050" stroke-width="3.9" stroke-linecap="round"/><line x1="1.4" y1="3.4" x2="3.9" y2="32.6" stroke="#cfcfcf" stroke-width="3.05" stroke-linecap="round"/><line x1="2.1" y1="3.6" x2="10.6" y2="32.6" stroke="#505050" stroke-width="3.9" stroke-linecap="round"/><line x1="2.1" y1="3.6" x2="10.6" y2="32.6" stroke="#cfcfcf" stroke-width="3.05" stroke-linecap="round"/><line x1="11.4" y1="19.5" x2="11.4" y2="32.4" stroke="#505050" stroke-width="3.9" stroke-linecap="round"/><line x1="11.4" y1="19.5" x2="11.4" y2="32.4" stroke="#cfcfcf" stroke-width="3.05" stroke-linecap="round"/><line x1="7.1" y1="2.6" x2="14.6" y2="31.1" stroke="#505050" stroke-width="3.9" stroke-linecap="round"/><line x1="7.1" y1="2.6" x2="14.6" y2="31.1" stroke="#cfcfcf" stroke-width="3.05" stroke-linecap="round"/><line x1="17.1" y1="2.4" x2="18.6" y2="30.6" stroke="#505050" stroke-width="3.9" stroke-linecap="round"/><line x1="17.1" y1="2.4" x2="18.6" y2="30.6" stroke="#cfcfcf" stroke-width="3.05" stroke-linecap="round"/><line x1="22.0" y1="1.1" x2="23.1" y2="29.6" stroke="#505050" stroke-width="3.9" stroke-linecap="round"/><line x1="22.0" y1="1.1" x2="23.1" y2="29.6" stroke="#cfcfcf" stroke-width="3.05" stroke-linecap="round"/><line x1="26.8" y1="3.6" x2="17.1" y2="29.6" stroke="#505050" stroke-width="3.9" stroke-linecap="round"/><line x1="26.8" y1="3.6" x2="17.1" y2="29.6" stroke="#cfcfcf" stroke-width="3.05" stroke-linecap="round"/><line x1="16.6" y1="33.6" x2="28.1" y2="30.6" stroke="#505050" stroke-width="3.9" stroke-linecap="round"/><line x1="16.6" y1="33.6" x2="28.1" y2="30.6" stroke="#cfcfcf" stroke-width="3.05" stroke-linecap="round"/></g>
<path d="M405.5,350.5 C409,349.5 412,350 414.2,352.5" stroke="#333" stroke-width="0.6" fill="none"/>
<rect x="414.10" y="346.60" width="9.60" height="17.60" rx="4.56" fill="#c2b241" stroke="#333" stroke-width="0.7"/>
<path d="M423.6,356 C430,356.5 434,362 433,367 C432,372 423,374 421,379 C420.5,381 421,382 422,382" stroke="#333" stroke-width="0.6" fill="none"/>
<path d="M426.5,390.5 L430.2,389.6 L431.5,398 L428,398.8 Z" fill="#fff" stroke="#555" stroke-width="0.6"/>
<ellipse cx="426.6" cy="385.8" rx="8.6" ry="5.6" fill="#6dc6da" stroke="#333" stroke-width="0.7" transform="rotate(-10 426.6 385.8)"/>
<path d="M420,395.5 L354.7,429.4 M433,396.5 L459.9,430.6" stroke="#a8a8a8" stroke-width="1.15" stroke-dasharray="4.2 3" fill="none"/>
<rect x="346.6" y="432.5" width="121.2" height="20.6" rx="10" fill="#fff" stroke="#aaa" stroke-width="0.9"/>
<text transform="translate(352.20,446.8) scale(1,1.04)" font-size="13.72" >Gα peptide sensor</text>
<rect x="370.6" y="461.4" width="15.6" height="4.2" fill="#fff" stroke="#333" stroke-width="0.8"/>
<rect x="371.3" y="475.9" width="16.4" height="4.4" fill="#2b58a4" stroke="#333" stroke-width="0.6"/>
<text transform="translate(395.90,467.3) scale(1,1.04)" font-size="13.30" >No pep</text>
<text transform="translate(395.60,483.6) scale(1,1.04)" font-size="13.54" >Q pep</text>
<polygon points="417.30,494.90 415.81,499.47 411.12,500.47 407.90,496.90 409.39,492.33 414.08,491.33" fill="#ffff20" stroke="#9aaee0" stroke-width="0.6"/>
<text transform="translate(405.40,511.8) scale(1,1.04)" font-size="13.61" >Agonist</text>
<path d="M394.1,494.2 V523" stroke="#111" stroke-width="1.1" fill="none"/>
<path d="M390.6,522.4 L397.5,522.4 L394.1,528 Z" fill="#111"/>
<path d="M401.6,497.2 C397.5,500 395,506 394.4,514" stroke="#111" stroke-width="1" fill="none"/>
<text transform="translate(381.10,543.8) scale(1,1.04)" font-size="16.10" >cAMP</text>
<rect x="540.3" y="467.63" width="26.40" height="67.27" fill="#9c1c20" stroke="#2a2a2a" stroke-width="0.9"/>
<rect x="570.8" y="386.23" width="26.00" height="148.67" fill="#173e76" stroke="#2a2a2a" stroke-width="0.9"/>
<rect x="614.4" y="489.43" width="26.00" height="45.47" fill="url(#hr)" stroke="#2a2a2a" stroke-width="0.9"/>
<rect x="645.0" y="404.06" width="25.50" height="130.84" fill="url(#hb)" stroke="#2a2a2a" stroke-width="0.9"/>
<path d="M527.2,299.4 H683.7 V534.9 M527.2,299.4 V534.9 H683.7" fill="none" stroke="#2e2e2e" stroke-width="1.3"/>
<line x1="522.9" y1="534.9" x2="527.2" y2="534.9" stroke="#2e2e2e" stroke-width="1.3" />
<text transform="translate(522,539.5) scale(1,1.04)" font-size="13.2" text-anchor="end" >0</text>
<line x1="522.9" y1="501.265" x2="527.2" y2="501.265" stroke="#2e2e2e" stroke-width="1.3" />
<text transform="translate(522,505.865) scale(1,1.04)" font-size="13.2" text-anchor="end" >50</text>
<line x1="522.9" y1="467.63" x2="527.2" y2="467.63" stroke="#2e2e2e" stroke-width="1.3" />
<text transform="translate(522,472.23) scale(1,1.04)" font-size="13.2" text-anchor="end" >100</text>
<line x1="522.9" y1="433.995" x2="527.2" y2="433.995" stroke="#2e2e2e" stroke-width="1.3" />
<text transform="translate(522,438.595) scale(1,1.04)" font-size="13.2" text-anchor="end" >150</text>
<line x1="522.9" y1="400.36" x2="527.2" y2="400.36" stroke="#2e2e2e" stroke-width="1.3" />
<text transform="translate(522,404.96000000000004) scale(1,1.04)" font-size="13.2" text-anchor="end" >200</text>
<line x1="522.9" y1="366.725" x2="527.2" y2="366.725" stroke="#2e2e2e" stroke-width="1.3" />
<text transform="translate(522,371.32500000000005) scale(1,1.04)" font-size="13.2" text-anchor="end" >250</text>
<line x1="522.9" y1="333.09" x2="527.2" y2="333.09" stroke="#2e2e2e" stroke-width="1.3" />
<text transform="translate(522,337.69) scale(1,1.04)" font-size="13.2" text-anchor="end" >300</text>
<line x1="522.9" y1="299.455" x2="527.2" y2="299.455" stroke="#2e2e2e" stroke-width="1.3" />
<text transform="translate(522,304.055) scale(1,1.04)" font-size="13.2" text-anchor="end" >350</text>
<line x1="568.2" y1="534.9" x2="568.2" y2="538.5" stroke="#2e2e2e" stroke-width="1.2" />
<line x1="642.2" y1="534.9" x2="642.2" y2="538.5" stroke="#2e2e2e" stroke-width="1.2" />
<circle cx="543.4" cy="467.2" r="2.85" fill="#000"/>
<circle cx="553.3" cy="467.2" r="2.85" fill="#000"/>
<circle cx="563.4" cy="467.2" r="2.85" fill="#000"/>
<line x1="583.9" y1="348.3" x2="583.9" y2="423.1" stroke="#2e2e2e" stroke-width="1.0" />
<line x1="576.9" y1="348.3" x2="590.9" y2="348.3" stroke="#2e2e2e" stroke-width="1.0" />
<line x1="576.9" y1="423.1" x2="590.9" y2="423.1" stroke="#2e2e2e" stroke-width="1.0" />
<path d="M580.90,358.70 L586.90,358.70 L583.90,353.30 Z" fill="#000"/>
<path d="M580.90,377.70 L586.90,377.70 L583.90,372.30 Z" fill="#000"/>
<path d="M580.90,430.40 L586.90,430.40 L583.90,425.00 Z" fill="#000"/>
<line x1="627.8" y1="484.5" x2="627.8" y2="493.3" stroke="#2e2e2e" stroke-width="1.0" />
<line x1="622.8" y1="484.5" x2="632.8" y2="484.5" stroke="#2e2e2e" stroke-width="1.0" />
<line x1="622.8" y1="493.3" x2="632.8" y2="493.3" stroke="#2e2e2e" stroke-width="1.0" />
<circle cx="621.1" cy="484.3" r="2.85" fill="#000"/>
<circle cx="621.1" cy="493.2" r="2.85" fill="#000"/>
<circle cx="633.5" cy="489.3" r="2.85" fill="#000"/>
<line x1="657.9" y1="371.4" x2="657.9" y2="435.5" stroke="#2e2e2e" stroke-width="1.0" />
<line x1="651.1" y1="371.4" x2="664.6999999999999" y2="371.4" stroke="#2e2e2e" stroke-width="1.0" />
<line x1="651.1" y1="435.5" x2="664.6999999999999" y2="435.5" stroke="#2e2e2e" stroke-width="1.0" />
<path d="M654.90,382.50 L660.90,382.50 L657.90,377.10 Z" fill="#000"/>
<path d="M654.90,395.10 L660.90,395.10 L657.90,389.70 Z" fill="#000"/>
<path d="M654.90,442.70 L660.90,442.70 L657.90,437.30 Z" fill="#000"/>
<path d="M553.5,437.6 V334.5 H583.5 V341.4" fill="none" stroke="#2a2a2a" stroke-width="1.0"/>
<path d="M553.5,329.4 V319.5 H627.5 V329.4" fill="none" stroke="#2a2a2a" stroke-width="1.0"/>
<path d="M627.5,437.6 V334.5 H657.5 V351.9" fill="none" stroke="#2a2a2a" stroke-width="1.0"/>
<path d="M562.90,326.30 L562.90,331.30 M560.73,327.55 L565.07,330.05 M560.73,330.05 L565.07,327.55 " stroke="#111" stroke-width="1.3" fill="none"/>
<path d="M568.50,326.30 L568.50,331.30 M566.33,327.55 L570.67,330.05 M566.33,330.05 L570.67,327.55 " stroke="#111" stroke-width="1.3" fill="none"/>
<path d="M574.20,326.30 L574.20,331.30 M572.03,327.55 L576.37,330.05 M572.03,330.05 L576.37,327.55 " stroke="#111" stroke-width="1.3" fill="none"/>
<path d="M636.90,326.30 L636.90,331.30 M634.73,327.55 L639.07,330.05 M634.73,330.05 L639.07,327.55 " stroke="#111" stroke-width="1.3" fill="none"/>
<path d="M642.50,326.30 L642.50,331.30 M640.33,327.55 L644.67,330.05 M640.33,330.05 L644.67,327.55 " stroke="#111" stroke-width="1.3" fill="none"/>
<path d="M648.10,326.30 L648.10,331.30 M645.93,327.55 L650.27,330.05 M645.93,330.05 L650.27,327.55 " stroke="#111" stroke-width="1.3" fill="none"/>
<text transform="translate(590.4,314.8) scale(1,1.04)" font-size="10.5" text-anchor="middle" >ns</text>
<text transform="translate(556.10,552.9) scale(1,1.04)" font-size="15.77" >ISO</text>
<text transform="translate(628.50,552.9) scale(1,1.04)" font-size="15.91" >Clen</text>
<text transform="translate(496.30,568.3) scale(1,1.04)" font-size="13.66" >Qpep</text>
<text transform="translate(551,567.5) scale(1,1.04)" font-size="12" text-anchor="middle" >-</text>
<text transform="translate(580.7,567.5) scale(1,1.04)" font-size="12" text-anchor="middle" >+</text>
<text transform="translate(623.7,567.5) scale(1,1.04)" font-size="12" text-anchor="middle" >-</text>
<text transform="translate(654.7,567.5) scale(1,1.04)" font-size="12" text-anchor="middle" >+</text>
<text transform="translate(483.4,405.4) rotate(-90) scale(1,1.04)" font-size="15.15" text-anchor="middle">Change in cAMP (%)</text>
</svg></body></html>
